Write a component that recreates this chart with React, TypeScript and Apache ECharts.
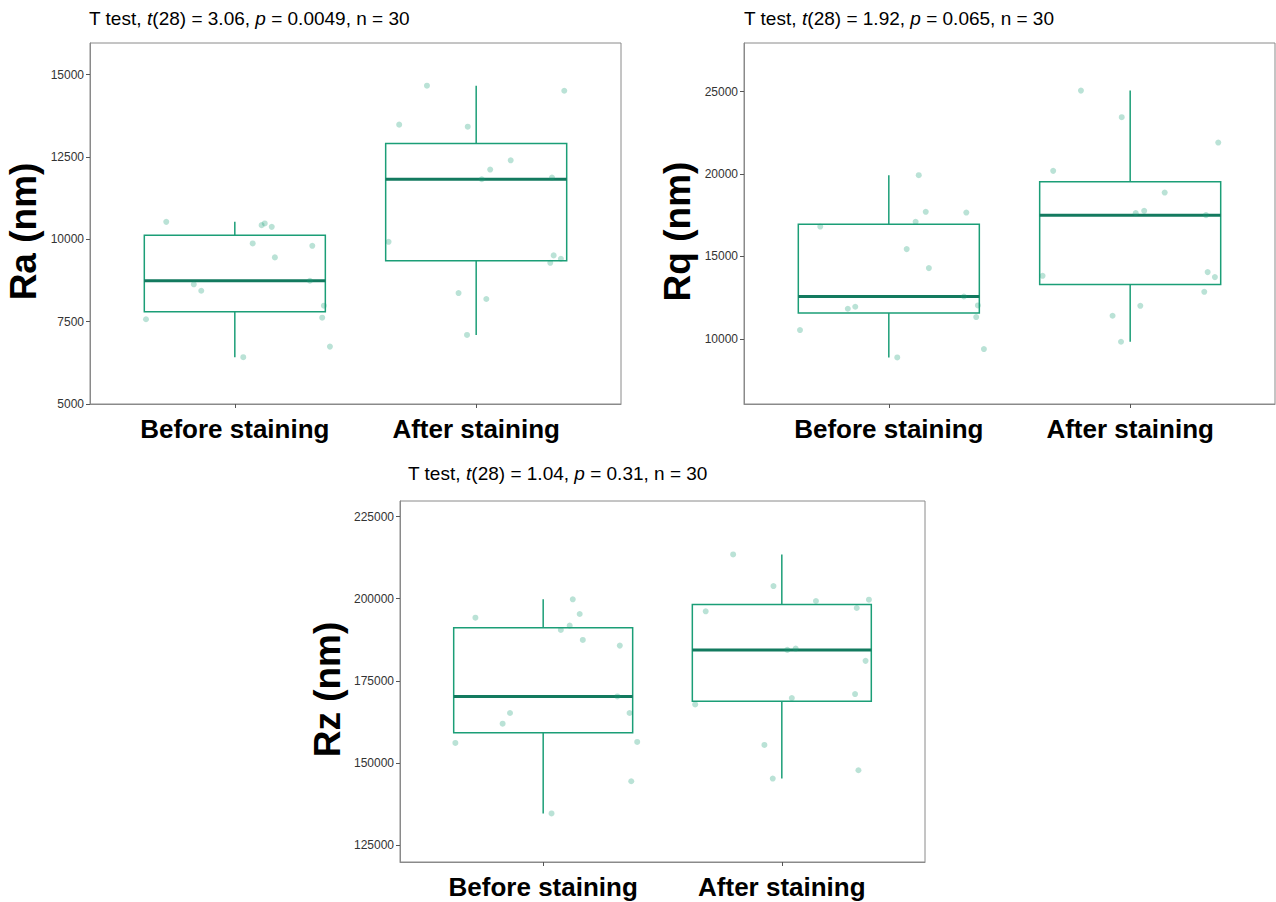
import React, { useEffect, useRef } from 'react';
import * as echarts from 'echarts';

// ---------- data ----------
const groups = ['Before staining', 'After staining'];
const groupPos = [1, 2];

// horizontal jitter positions of the points (same for each panel)
const jitterBefore = [0.716, 0.83, 0.861, 0.632, 1.035, 1.074, 1.111, 1.124, 1.153, 1.166, 1.321, 1.311, 1.369, 1.362, 1.394];
const jitterAfter = [1.796, 1.681, 1.965, 2.143, 2.058, 2.023, 2.314, 1.637, 2.321, 2.307, 2.351, 1.927, 2.042, 1.962, 2.365];

const raBefore = [10530, 8633, 8439, 7573, 6421, 9875, 10430, 10481, 10378, 9451, 9803, 8742, 7985, 7621, 6742];
const raAfter = [14663, 13481, 13420, 12399, 12117, 11824, 11875, 9924, 9512, 9287, 9409, 8369, 8188, 7097, 14511];

const rqBefore = [16811, 11820, 11941, 10528, 8866, 15440, 17096, 19928, 17703, 14288, 17660, 12566, 12020, 11316, 9375];
const rqAfter = [25060, 20189, 23446, 18873, 17763, 17624, 17502, 13821, 14045, 12851, 13742, 11395, 12001, 9818, 21906];

const rzBefore = [194221, 161948, 165197, 156089, 134624, 190487, 191792, 199807, 195344, 187451, 185720, 170236, 144430, 165197, 156392];
const rzAfter = [213470, 196164, 203845, 199291, 184809, 184415, 197166, 167808, 147770, 170965, 181075, 155481, 169751, 145250, 199686];

const raTicks = [5000, 7500, 10000, 12500, 15000];
const rqTicks = [10000, 15000, 20000, 25000];
const rzTicks = [125000, 150000, 175000, 200000, 225000];

const raTitle = ['3.06', '0.0049', '30'];
const rqTitle = ['1.92', '0.065', '30'];
const rzTitle = ['1.04', '0.31', '30'];

// ---------- helpers ----------
function quantile(sorted: number[], p: number) {
  const h = (sorted.length - 1) * p;
  const lo = Math.floor(h);
  const hi = Math.min(lo + 1, sorted.length - 1);
  return sorted[lo] + (h - lo) * (sorted[hi] - sorted[lo]);
}
function boxStats(pos: number, vals: number[]) {
  const s = [...vals].sort((a, b) => a - b);
  const q1 = quantile(s, 0.25);
  const med = quantile(s, 0.5);
  const q3 = quantile(s, 0.75);
  const iqr = q3 - q1;
  const lo = Math.min(...s.filter((v) => v >= q1 - 1.5 * iqr));
  const hi = Math.max(...s.filter((v) => v <= q3 + 1.5 * iqr));
  return [pos, lo, q1, med, q3, hi];
}

const FONT = '"Liberation Sans", Arial, Helvetica, sans-serif';
const BOX = '#1B9E77';
const MED = '#137a5f';
const BORDER = '#8a8a8a';

const panels = [
  { name: 'Ra (nm)', before: raBefore, after: raAfter, ticks: raTicks, min: 5000, max: 15960, title: raTitle,
    grid: { left: 90, top: 43, width: 531, height: 361 }, titlePos: { left: 89, top: 9 }, nameGap: 48 },
  { name: 'Rq (nm)', before: rqBefore, after: rqAfter, ticks: rqTicks, min: 6040, max: 27950, title: rqTitle,
    grid: { left: 744, top: 43, width: 531, height: 361 }, titlePos: { left: 744, top: 9 }, nameGap: 48 },
  { name: 'Rz (nm)', before: rzBefore, after: rzAfter, ticks: rzTicks, min: 119840, max: 229740, title: rzTitle,
    grid: { left: 400, top: 501, width: 525, height: 361 }, titlePos: { left: 408, top: 464 }, nameGap: 54 },
];

export default function App() {
  const ref = useRef<HTMLDivElement>(null);

  useEffect(() => {
    if (!ref.current) return;
    const chart = echarts.init(ref.current, undefined, { renderer: 'svg' });

    const grids: any[] = [];
    const xAxes: any[] = [];
    const yAxes: any[] = [];
    const series: any[] = [];
    const titles: any[] = [];

    panels.forEach((p, i) => {
      grids.push({
        ...p.grid,
        show: true,
        borderColor: BORDER,
        borderWidth: 1,
        backgroundColor: 'transparent',
        containLabel: false,
        outerBoundsMode: 'none',
      });
      xAxes.push({
        type: 'value',
        gridIndex: i,
        min: 0.4,
        max: 2.6,
        splitLine: { show: false },
        axisLine: { show: true, onZero: false, lineStyle: { color: BORDER, width: 1 } },
        axisTick: { show: true, length: 4, customValues: groupPos, lineStyle: { color: '#555' } },
        axisLabel: {
          show: true,
          customValues: groupPos,
          formatter: (v: number) => groups[Math.round(v) - 1] ?? '',
          fontFamily: FONT,
          fontSize: 26,
          lineHeight: 27,
          fontWeight: 'bold',
          color: '#000',
          margin: 11,
        },
      });
      yAxes.push({
        type: 'value',
        gridIndex: i,
        min: p.min,
        max: p.max,
        name: p.name,
        nameLocation: 'middle',
        nameRotate: 90,
        nameGap: p.nameGap,
        nameTextStyle: { fontFamily: FONT, fontSize: 37, fontWeight: 'bold', color: '#000', padding: [0, 16, 0, 0] },
        splitLine: { show: false },
        axisLine: { show: true, onZero: false, lineStyle: { color: BORDER, width: 1 } },
        axisTick: { show: true, length: 4, customValues: p.ticks, lineStyle: { color: '#555' } },
        axisLabel: {
          show: true,
          customValues: p.ticks,
          formatter: (v: number) => String(Math.round(v)),
          fontFamily: FONT,
          fontSize: 12,
          color: '#333',
          margin: 6,
        },
      });
      titles.push({
        ...p.titlePos,
        padding: 0,
        text: `T test, {i|t}(28) = ${p.title[0]}, {i|p} = ${p.title[1]}, n = ${p.title[2]}`,
        textStyle: {
          fontFamily: FONT,
          fontSize: 19,
          fontWeight: 'normal',
          color: '#000',
          rich: {
            i: { fontFamily: FONT, fontSize: 19, fontStyle: 'italic', color: '#000' },
          },
        },
      });

      series.push({
        type: 'custom',
        xAxisIndex: i,
        yAxisIndex: i,
        encode: { x: 0, y: [1, 2, 3, 4, 5] },
        data: [boxStats(groupPos[0], p.before), boxStats(groupPos[1], p.after)],
        renderItem: (params: any, api: any) => {
          const x = api.value(0);
          const c = (v: number) => api.coord([x, v]);
          const pMin = c(api.value(1));
          const pQ1 = c(api.value(2));
          const pMd = c(api.value(3));
          const pQ3 = c(api.value(4));
          const pMax = c(api.value(5));
          const half = api.size([0.75, 0])[0] / 2;
          const cx = pMd[0];
          const st = { stroke: BOX, lineWidth: 1.5, fill: null };
          return {
            type: 'group',
            children: [
              { type: 'line', shape: { x1: cx, y1: pQ3[1], x2: cx, y2: pMax[1] }, style: st },
              { type: 'line', shape: { x1: cx, y1: pMin[1], x2: cx, y2: pQ1[1] }, style: st },
              { type: 'rect', shape: { x: cx - half, y: pQ3[1], width: half * 2, height: pQ1[1] - pQ3[1] }, style: { stroke: BOX, lineWidth: 1.5, fill: 'none' } },
              { type: 'line', shape: { x1: cx - half, y1: pMd[1], x2: cx + half, y2: pMd[1] }, style: { stroke: MED, lineWidth: 3 } },
            ],
          };
        },
        z: 2,
      });

      const pts = [
        ...p.before.map((v, k) => [jitterBefore[k], v]),
        ...p.after.map((v, k) => [jitterAfter[k], v]),
      ];
      series.push({
        type: 'scatter',
        xAxisIndex: i,
        yAxisIndex: i,
        data: pts,
        symbol: 'circle',
        symbolSize: 6,
        itemStyle: { color: BOX, opacity: 0.3 },
        z: 3,
      });
    });

    chart.setOption({
      animation: false,
      backgroundColor: '#fff',
      title: titles,
      grid: grids,
      xAxis: xAxes,
      yAxis: yAxes,
      series,
    });

    return () => chart.dispose();
  }, []);

  return (
    <div
      ref={ref}
      style={{ position: 'fixed', left: 0, top: 0, width: 1276, height: 902 }}
    />
  );
}
